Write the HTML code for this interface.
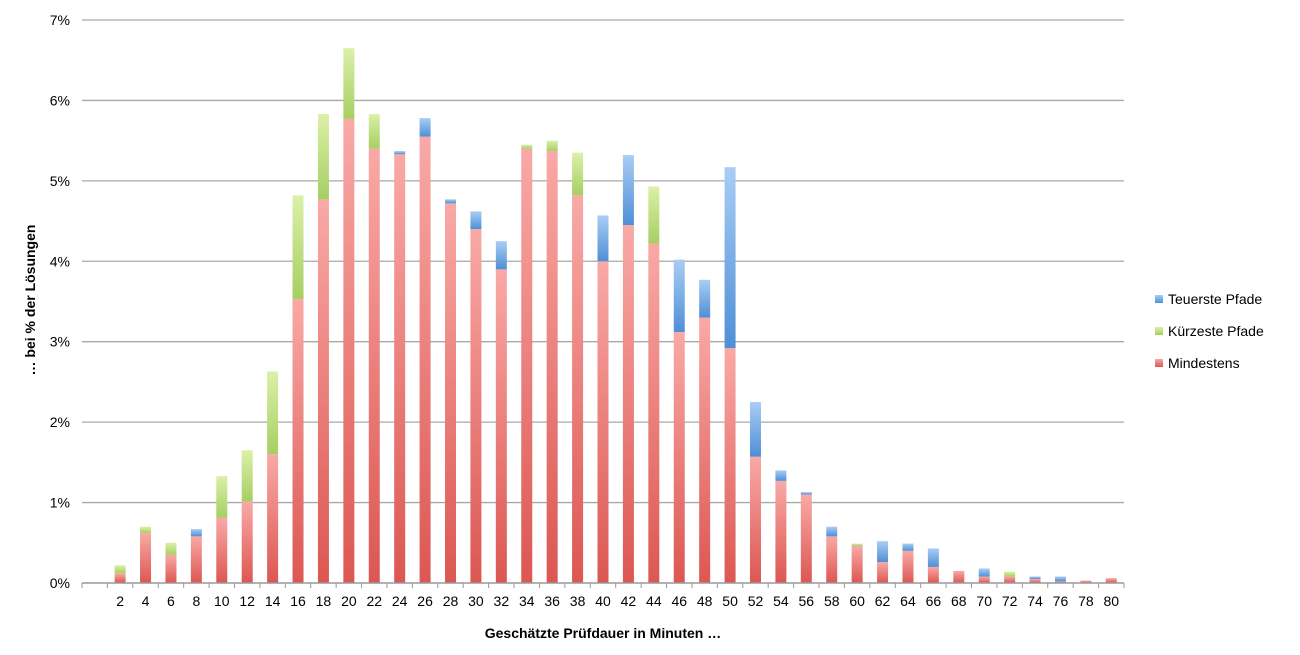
<!DOCTYPE html>
<html><head><meta charset="utf-8"><style>
body{margin:0;background:#fff;font-family:"Liberation Sans",sans-serif}
</style></head><body>
<svg id="c" width="1300" height="650">
<defs>
<linearGradient id="gr" x1="0" y1="0" x2="0" y2="1"><stop offset="0" stop-color="#f9a9a6"/><stop offset="1" stop-color="#dc5752"/></linearGradient>
<linearGradient id="gg" x1="0" y1="0" x2="0" y2="1"><stop offset="0" stop-color="#dcf0a8"/><stop offset="1" stop-color="#a6cf62"/></linearGradient>
<linearGradient id="gb" x1="0" y1="0" x2="0" y2="1"><stop offset="0" stop-color="#a9cdf5"/><stop offset="1" stop-color="#4f8fd6"/></linearGradient>
</defs>
<g id="grid"></g><g id="bars"></g><g id="axes"></g>
<text x="35" y="300" transform="rotate(-90 35 300)" text-anchor="middle" font-size="14" font-weight="bold">… bei % der Lösungen</text>
<text x="603" y="638" text-anchor="middle" font-size="14" font-weight="bold">Geschätzte Prüfdauer in Minuten …</text>
<g font-size="14">
<rect x="1155" y="295" width="8" height="8" fill="url(#gb)"/><text x="1168" y="304">Teuerste Pfade</text>
<rect x="1155" y="327" width="8" height="8" fill="url(#gg)"/><text x="1168" y="336">Kürzeste Pfade</text>
<rect x="1155" y="359" width="8" height="8" fill="url(#gr)"/><text x="1168" y="368">Mindestens</text>
</g>
</svg>
<script>
const categories=[2,4,6,8,10,12,14,16,18,20,22,24,26,28,30,32,34,36,38,40,42,44,46,48,50,52,54,56,58,60,62,64,66,68,70,72,74,76,78,80];
const mindestens=[0.12,0.62,0.35,0.58,0.81,1.01,1.6,3.53,4.77,5.77,5.4,5.33,5.55,4.72,4.4,3.9,5.4,5.37,4.82,4.0,4.45,4.22,3.12,3.3,2.92,1.57,1.27,1.1,0.58,0.46,0.26,0.4,0.2,0.15,0.08,0.08,0.05,0.02,0.03,0.06];
const kuerzeste=[0.1,0.08,0.15,0,0.52,0.64,1.03,1.29,1.06,0.88,0.43,0,0,0,0,0,0.05,0.13,0.53,0,0,0.71,0,0,0,0,0,0,0,0.03,0,0,0,0,0,0.06,0,0,0,0];
const teuerste=[0,0,0,0.09,0,0,0,0,0,0,0,0.04,0.23,0.05,0.22,0.35,0,0,0,0.57,0.87,0,0.9,0.47,2.25,0.68,0.13,0.03,0.12,0,0.26,0.09,0.23,0,0.1,0,0.03,0.06,0,0];
const yTicks=[0,1,2,3,4,5,6,7];
const NS="http://www.w3.org/2000/svg";
const X0=82,X1=1124,Y0=583,PPU=80.43;
const slot=(X1-X0)/(categories.length+1);
const y=v=>Y0-v*PPU;
const xc=i=>X0+slot*(i+1.5);
function mk(t,a,p){const e=document.createElementNS(NS,t);for(const k in a)e.setAttribute(k,a[k]);p.appendChild(e);return e;}
const grid=document.getElementById('grid'),bars=document.getElementById('bars'),axes=document.getElementById('axes');
yTicks.forEach(t=>{
 if(t>0){const l=mk('line',{x1:X0,x2:X1,y1:y(t),y2:y(t),stroke:'#a8a8a8','stroke-width':1.3},grid);
 
 }
 const tx=mk('text',{x:70,y:y(t)+5,'text-anchor':'end','font-size':14},axes);tx.textContent=t+'%';
 
 
});
const ax=mk('line',{x1:X0,x2:X1,y1:Y0,y2:Y0,stroke:'#999','stroke-width':1.5},axes);


for(let i=0;i<=categories.length+1;i++){mk('line',{x1:X0+slot*i,x2:X0+slot*i,y1:Y0,y2:Y0+5,stroke:'#999'},axes);}
const bw=11;
categories.forEach((c,i)=>{
 const tx=mk('text',{x:xc(i),y:606,'text-anchor':'middle','font-size':14},axes);tx.textContent=c;
 
 
 let base=0;
 [[mindestens,'gr','mindestens'],[kuerzeste,'gg','kuerzeste'],[teuerste,'gb','teuerste']].forEach(([arr,g,n])=>{
  const v=arr[i];if(v<=0)return;
  const r=mk('rect',{x:xc(i)-bw/2,y:y(base+v),width:bw,height:v*PPU,fill:'url(#'+g+')'},bars);
  
  
  base+=v;
 });
});
</script>
</body></html>
